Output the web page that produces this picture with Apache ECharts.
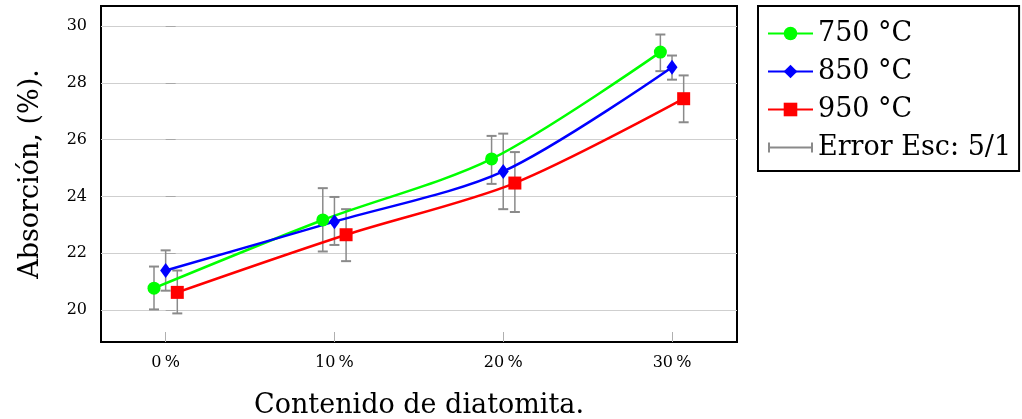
<!DOCTYPE html>
<html>
<head>
<meta charset="utf-8">
<script src="https://cdn.jsdelivr.net/npm/echarts@6/dist/echarts.min.js"></script>
<style>
html,body{margin:0;padding:0;background:#fff;}
#c{width:1022px;height:419px;}
</style>
</head>
<body>
<div id="c"></div>
<script>
// ---- data ----
const contents = [0, 10, 20, 30];            // diatomite content (%)
const tickLabels = ['0\u2009%', '10\u2009%', '20\u2009%', '30\u2009%'];
const yTicks = [20, 22, 24, 26, 28, 30];
const seriesNames = ['750 °C', '850 °C', '950 °C'];
const abs750 = [20.77, 23.17, 25.32, 29.08];
const abs850 = [21.39, 23.11, 24.88, 28.55];
const abs950 = [20.62, 22.65, 24.47, 27.44];
const err750Low = [20.02, 22.06, 24.44, 28.41];
const err750High = [21.53, 24.29, 26.13, 29.70];
const err850Low = [20.68, 22.29, 23.55, 28.11];
const err850High = [22.10, 23.98, 26.21, 28.96];
const err950Low = [19.88, 21.72, 23.45, 26.61];
const err950High = [21.39, 23.55, 25.56, 28.26];
const errorLegend = 'Error Esc: 5/1';

// ---- styling ----
const FONT = 'DejaVu Serif';
const DODGE = 0.69;   // horizontal dodge between series, axis units
const colors = ['#00ff00', '#0000ff', '#ff0000'];
const symbols = ['circle', 'diamond', 'rect'];
const symbolSizes = [13, [11, 15], 13];
const values = [abs750, abs850, abs950];
const lows = [err750Low, err850Low, err950Low];
const highs = [err750High, err850High, err950High];

const series = [];
// error bars
for (let s = 0; s < 3; s++) {
  const d = contents.map((c, i) => [c + (s - 1) * DODGE, lows[s][i], highs[s][i]]);
  series.push({
    type: 'custom',
    name: errorLegend,
    z: 1,
    silent: true,
    data: d,
    renderItem: function (params, api) {
      const x = api.value(0);
      const lo = api.coord([x, api.value(1)]);
      const hi = api.coord([x, api.value(2)]);
      const w = 5;
      const st = { stroke: '#8a8a8a', lineWidth: 1.5 };
      return {
        type: 'group',
        children: [
          { type: 'line', shape: { x1: lo[0], y1: lo[1], x2: hi[0], y2: hi[1] }, style: st },
          { type: 'line', shape: { x1: lo[0] - w, y1: lo[1], x2: lo[0] + w, y2: lo[1] }, style: { stroke: '#8a8a8a', lineWidth: 2 } },
          { type: 'line', shape: { x1: hi[0] - w, y1: hi[1], x2: hi[0] + w, y2: hi[1] }, style: { stroke: '#8a8a8a', lineWidth: 2 } }
        ]
      };
    },
    itemStyle: { color: '#8a8a8a' }
  });
}
// lines
for (let s = 0; s < 3; s++) {
  series.push({
    type: 'line',
    name: seriesNames[s],
    z: 3,
    smooth: 0.3,
    symbol: symbols[s],
    symbolSize: symbolSizes[s],
    showAllSymbol: true,
    lineStyle: { color: colors[s], width: 2.5 },
    itemStyle: { color: colors[s] },
    data: contents.map((c, i) => [c + (s - 1) * DODGE, values[s][i]])
  });
}

const chart = echarts.init(document.getElementById('c'), null, { renderer: 'canvas' });
chart.setOption({
  backgroundColor: '#fff',
  animation: false,
  textStyle: { fontFamily: FONT },
  grid: {
    left: 101, top: 6, right: 285, bottom: 77,
    show: true, borderColor: '#000', borderWidth: 2, backgroundColor: 'transparent',
    containLabel: false,
    outerBoundsMode: 'none'
  },
  legend: {
    orient: 'vertical',
    left: 758, top: 6,
    padding: [14, 8, 10, 9],
    itemGap: 11,
    itemWidth: 45, itemHeight: 17,
    borderColor: '#000', borderWidth: 2,
    backgroundColor: '#fff',
    textStyle: { fontFamily: FONT, fontSize: 27, color: '#000' },
    data: seriesNames.map(n => ({ name: n })).concat([{
      name: errorLegend,
      icon: 'path://M0,0H2V10H0Z M0,4H45V6H0Z M43,0H45V10H43Z',
      itemStyle: { color: '#8a8a8a' }
    }])
  },
  xAxis: {
    type: 'value',
    min: -3.83, max: 33.85,
    name: 'Contenido de diatomita.',
    nameLocation: 'middle',
    nameGap: 50,
    nameTextStyle: { fontFamily: FONT, fontSize: 27, color: '#000' },
    axisLine: { show: false },
    splitLine: { show: false },
    axisTick: { show: true, inside: true, length: 10, customValues: contents, lineStyle: { color: '#b0b0b0', width: 1 } },
    axisLabel: {
      customValues: contents,
      margin: 13,
      fontFamily: FONT, fontSize: 16, color: '#000',
      formatter: v => tickLabels[contents.indexOf(v)] ?? ''
    }
  },
  yAxis: {
    type: 'value',
    min: 18.873, max: 30.704,
    name: 'Absorción, (%).',
    nameLocation: 'middle',
    nameGap: 57,
    nameTextStyle: { fontFamily: FONT, fontSize: 27, color: '#000' },
    axisLine: { show: false },
    axisTick: { show: true, inside: true, length: 10, customValues: yTicks, lineStyle: { color: '#a8a8a8', width: 1 } },
    splitLine: { show: true, lineStyle: { color: '#cfcfcf', width: 1 } },
    axisLabel: {
      customValues: yTicks,
      margin: 14,
      fontFamily: FONT, fontSize: 16, color: '#000'
    }
  },
  series: series
});
</script>
</body>
</html>
